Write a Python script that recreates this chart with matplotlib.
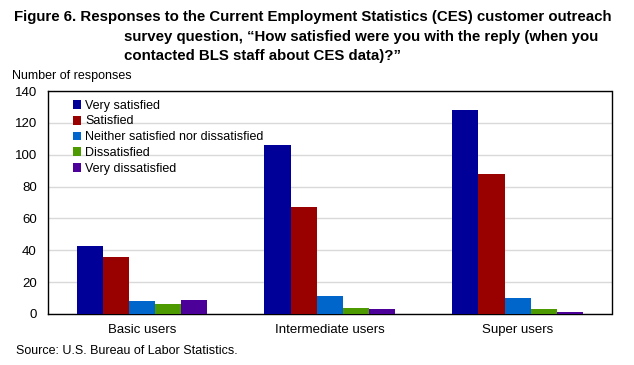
import numpy as np
import matplotlib
matplotlib.use("Agg")
import matplotlib.pyplot as plt
from matplotlib.patches import Patch

plt.rcParams["font.family"] = ["Liberation Sans", "DejaVu Sans"]

groups = ["Basic users", "Intermediate users", "Super users"]
series = ["Very satisfied", "Satisfied", "Neither satisfied nor dissatisfied",
          "Dissatisfied", "Very dissatisfied"]
very_satisfied = [43, 106, 128]
satisfied = [36, 67, 88]
neither = [8, 11, 10]
dissatisfied = [6, 4, 3]
very_dissatisfied = [9, 3, 1]
colors = ["#000099", "#990000", "#0066cc", "#4c9900", "#4c0099"]

values = [very_satisfied, satisfied, neither, dissatisfied, very_dissatisfied]

fig = plt.figure(figsize=(6.34, 3.65), dpi=100)
ax = fig.add_axes([48 / 634, 51 / 365, 563.5 / 634, 223 / 365])

x = np.arange(len(groups))
w = 0.139
for i, (vals, c) in enumerate(zip(values, colors)):
    ax.bar(x + (i - 2) * w, vals, w, color=c, zorder=3)

ax.set_xlim(-0.5, 2.5)
ax.set_ylim(0, 140)
ax.set_yticks(range(0, 141, 20))
ax.set_xticks(x)
ax.set_xticklabels(groups, fontsize=9)
ax.tick_params(axis="both", length=0, labelsize=9.5)
ax.tick_params(axis="x", pad=7)
ax.tick_params(axis="y", pad=8)
ax.yaxis.grid(True, color="#d9d9d9", linewidth=1, zorder=0)
for s in ax.spines.values():
    s.set_linewidth(1)
    s.set_color("black")

handles = [Patch(facecolor=c, label=l) for c, l in zip(colors, series)]
ax.legend(handles=handles, loc="upper left", bbox_to_anchor=(0.028, 1.0), frameon=False,
          fontsize=9, handlelength=0.7, handleheight=0.7, handletextpad=0.3,
          labelspacing=0.3, borderaxespad=0.3)

title_kw = dict(fontsize=10.8, fontweight="bold", va="center")
fig.text(14 / 634, 1 - 17 / 365,
         "Figure 6. Responses to the Current Employment Statistics (CES) customer outreach", **title_kw)
fig.text(124 / 634, 1 - 37 / 365,
         "survey question, \u201cHow satisfied were you with the reply (when you", **title_kw)
fig.text(124 / 634, 1 - 56 / 365, "contacted BLS staff about CES data)?\u201d", **title_kw)
fig.text(12 / 634, 1 - 76 / 365, "Number of responses", fontsize=9, va="center")
fig.text(16 / 634, 1 - 351 / 365, "Source: U.S. Bureau of Labor Statistics.", fontsize=9, va="center")

fig.savefig("out.png", dpi=100)
